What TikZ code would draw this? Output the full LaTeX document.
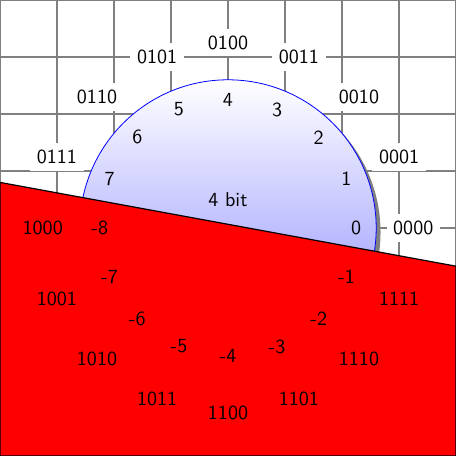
\documentclass[tikz,border=0pt]{standalone}
\usepackage{tikz}
\usetikzlibrary{shadows}

\begin{document}
\begin{tikzpicture}[font=\sffamily]
\useasboundingbox (-4,-4) rectangle (4,4);
% Grid
\draw[gray, line width=1pt] (-4,-4) grid (4,4);
% Number circle
\path[draw=blue, top color=white, bottom color=blue!50,
  drop shadow={fill=black!50, opacity=1}] (0,0) circle (2.6);
\node (title) at (0,0.5) {4 bit};
% Positive values and their bit patterns
\foreach \i/\b in {0/0000,1/0001,2/0010,3/0011,4/0100,5/0101,6/0110,7/0111} {
  \node (v\i) at (\i*22.5:2.25) {\i};
  \node[fill=white] (b\i) at (\i*22.5:3.25) {\b};
}
% Negative half
\filldraw[fill=red, draw=black, semithick] (-4,0.8) -- (4,-0.67) -- (4,-4) -- (-4,-4) -- cycle;
\foreach \k/\b in {8/1000,7/1001,6/1010,5/1011,4/1100,3/1101,2/1110,1/1111} {
  \node (m\k) at (360-\k*22.5:2.25) {-\k};
  \node (c\k) at (360-\k*22.5:3.25) {\b};
}
\end{tikzpicture}
\end{document}
